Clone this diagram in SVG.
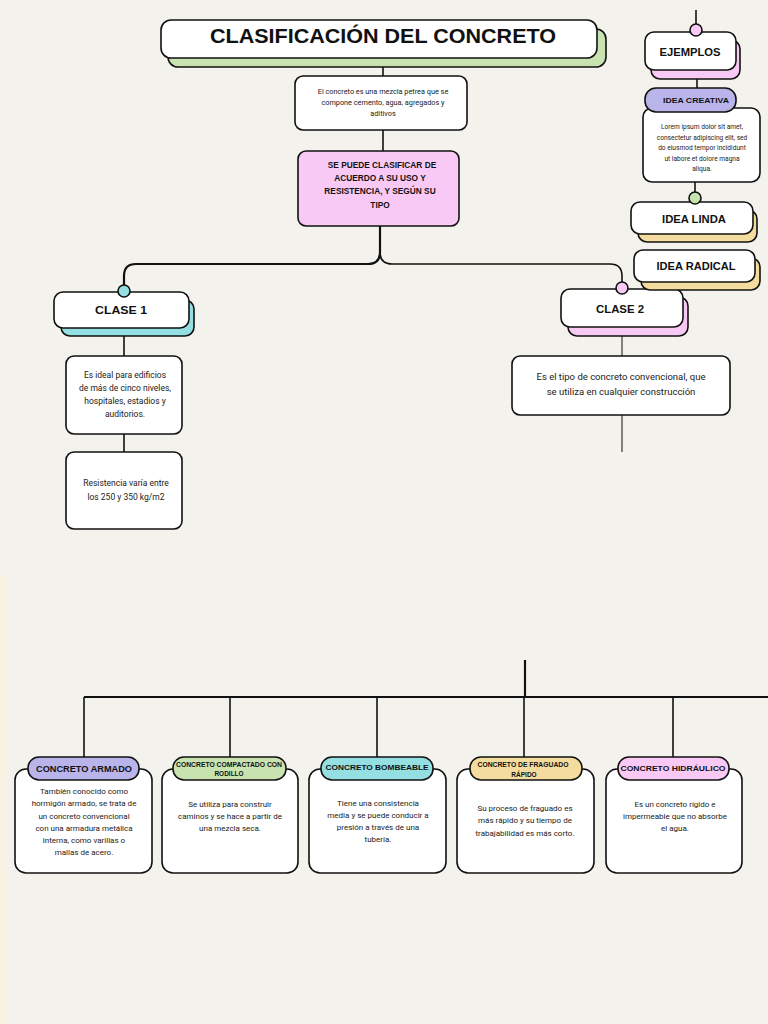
<svg xmlns="http://www.w3.org/2000/svg" width="768" height="1024" viewBox="0 0 768 1024">
<defs>
<style>
.bx{fill:#fff;stroke:#111;stroke-width:1.6}
.sh{stroke:#111;stroke-width:1.6}
.ln{fill:none;stroke:#111;stroke-width:1.6}
.lt{fill:none;stroke:#111;stroke-width:1}
.lk{fill:none;stroke:#111;stroke-width:2.2}
.hd{font-family:"Liberation Sans",Arial,sans-serif;font-weight:bold;fill:#111;text-anchor:middle}
.tx{font-family:Roboto,"Liberation Sans",sans-serif;fill:#222;text-anchor:middle}
.green{fill:#c9e3b0}.pink{fill:#f8c9f4}.cyan{fill:#93dfe2}.yel{fill:#f3dc9e}.pur{fill:#b9b4ea}
</style>
</defs>
<rect x="0" y="0" width="768" height="1024" fill="#f3f2ed"/>
<rect x="0" y="575" width="6" height="449" fill="#fbf1e2"/>

<g id="connectors">
<path class="ln" d="M383,58 V76"/>
<path class="ln" d="M383,130 V151"/>
<path class="lk" d="M380,226 V252 Q380,264 368,264 H136 Q124,264 124,276 V291"/>
<path class="ln" d="M380,252 Q380,264 392,264 H610 Q622,264 622,276 V288"/>
<path class="ln" d="M124,336 V356"/>
<path class="ln" d="M124,434 V452"/>
<path class="lt" d="M622,327 V356"/>
<path class="lt" d="M622,415 V452"/>
<path class="ln" d="M696,10 V25"/>
<path class="ln" d="M697,79 V88"/>
<path class="ln" d="M695,182 V192"/>
<path class="lk" d="M525,660 V697"/>
<path class="lk" d="M84,697 H768"/>
<path class="ln" d="M84,697 V757"/>
<path class="ln" d="M230,697 V757"/>
<path class="ln" d="M377,697 V757"/>
<path class="ln" d="M524,697 V757"/>
<path class="ln" d="M673,697 V757"/>
</g>

<g id="title">
<rect class="sh green" x="168" y="29" width="438" height="38" rx="10"/>
<rect class="bx" x="161" y="20" width="436" height="38" rx="10"/>
<text class="hd" x="383" y="43" font-size="21" textLength="346" lengthAdjust="spacingAndGlyphs">CLASIFICACIÓN DEL CONCRETO</text>
</g>

<g id="definicion">
<rect class="bx" x="295" y="76" width="172" height="54" rx="8"/>
<text class="tx" font-size="7.3"><tspan x="383" y="94">El concreto es una mezcla petrea que se</tspan><tspan x="383" y="105">compone cemento, agua, agregados y</tspan><tspan x="383" y="116">aditivos</tspan></text>
</g>

<g id="clasificacion">
<rect class="sh pink" x="298" y="151" width="161" height="75" rx="8"/>
<text class="hd" font-size="8.3"><tspan x="382" y="168">SE PUEDE CLASIFICAR DE</tspan><tspan x="380" y="181">ACUERDO A SU USO Y</tspan><tspan x="380" y="194">RESISTENCIA, Y SEGÚN SU</tspan><tspan x="380" y="208">TIPO</tspan></text>
</g>

<g id="clase1">
<rect class="sh cyan" x="61" y="300" width="133" height="36" rx="9"/>
<rect class="bx" x="54" y="292" width="135" height="36" rx="9"/>
<circle class="sh cyan" cx="124" cy="291" r="6"/>
<text class="hd" x="121" y="314" font-size="11" textLength="52" lengthAdjust="spacingAndGlyphs">CLASE 1</text>
</g>

<g id="clase1-uso">
<rect class="bx" x="66" y="356" width="116" height="78" rx="8"/>
<text class="tx" font-size="8.5"><tspan x="125" y="378">Es ideal para edificios</tspan><tspan x="125" y="391">de más de cinco niveles,</tspan><tspan x="125" y="404">hospitales, estadios y</tspan><tspan x="125" y="417">auditorios.</tspan></text>
</g>

<g id="clase1-resistencia">
<rect class="bx" x="66" y="452" width="116" height="77" rx="8"/>
<text class="tx" font-size="8.5"><tspan x="126" y="486">Resistencia varía entre</tspan><tspan x="126" y="500">los 250 y 350 kg/m2</tspan></text>
</g>

<g id="clase2">
<rect class="sh pink" x="568" y="297" width="120" height="39" rx="9"/>
<rect class="bx" x="561" y="289" width="122" height="38" rx="9"/>
<circle class="sh pink" cx="622" cy="288" r="6"/>
<text class="hd" x="620" y="313" font-size="11" textLength="48" lengthAdjust="spacingAndGlyphs">CLASE 2</text>
</g>

<g id="clase2-desc">
<rect class="bx" x="512" y="356" width="218" height="59" rx="8"/>
<text class="tx" font-size="9.5"><tspan x="621" y="380">Es el tipo de concreto convencional, que</tspan><tspan x="621" y="395">se utiliza en cualquier construcción</tspan></text>
</g>

<g id="ejemplos">
<rect class="sh pink" x="651" y="40" width="89" height="39" rx="9"/>
<rect class="bx" x="645" y="32" width="91" height="38" rx="9"/>
<circle class="sh pink" cx="696" cy="30" r="6"/>
<text class="hd" x="690" y="56" font-size="11" textLength="61" lengthAdjust="spacingAndGlyphs">EJEMPLOS</text>
</g>

<g id="idea-creativa">
<rect class="bx" x="643" y="108" width="117" height="74" rx="9"/>
<rect class="sh pur" x="645" y="88" width="91" height="24" rx="11"/>
<text class="hd" x="696" y="103" font-size="8" textLength="66" lengthAdjust="spacingAndGlyphs">IDEA CREATIVA</text>
<text class="tx" font-size="6.6"><tspan x="702" y="129">Lorem ipsum dolor sit amet,</tspan><tspan x="702" y="139.5">consectetur adipiscing elit, sed</tspan><tspan x="702" y="150">do eiusmod tempor incididunt</tspan><tspan x="702" y="160.5">ut labore et dolore magna</tspan><tspan x="702" y="171">aliqua.</tspan></text>
</g>

<g id="idea-linda">
<rect class="sh yel" x="638" y="210" width="119" height="32" rx="9"/>
<rect class="bx" x="631" y="202" width="122" height="32" rx="9"/>
<circle class="sh green" cx="695" cy="198" r="6"/>
<text class="hd" x="694" y="223" font-size="10" textLength="64" lengthAdjust="spacingAndGlyphs">IDEA LINDA</text>
</g>

<g id="idea-radical">
<rect class="sh yel" x="641" y="258" width="119" height="32" rx="9"/>
<rect class="bx" x="634" y="250" width="121" height="32" rx="9"/>
<text class="hd" x="696" y="270" font-size="10" textLength="79" lengthAdjust="spacingAndGlyphs">IDEA RADICAL</text>
</g>

<g id="concreto-armado">
<rect class="bx" x="15" y="769" width="137" height="104" rx="11"/>
<rect class="sh pur" x="28" y="757" width="111" height="23" rx="11"/>
<text class="hd" x="84" y="772" font-size="9" textLength="96" lengthAdjust="spacingAndGlyphs">CONCRETO ARMADO</text>
<text class="tx" font-size="8"><tspan x="84" y="794">También conocido como</tspan><tspan x="84" y="806">hormigón armado, se trata de</tspan><tspan x="84" y="819">un concreto convencional</tspan><tspan x="84" y="831">con una armadura metálica</tspan><tspan x="84" y="843">interna, como varillas o</tspan><tspan x="84" y="855">mallas de acero.</tspan></text>
</g>

<g id="concreto-compactado">
<rect class="bx" x="162" y="769" width="136" height="104" rx="11"/>
<rect class="sh green" x="173" y="757" width="113" height="23" rx="11"/>
<text class="hd" font-size="6.5"><tspan x="229" y="767" textLength="106" lengthAdjust="spacingAndGlyphs">CONCRETO COMPACTADO CON</tspan><tspan x="229" y="776">RODILLO</tspan></text>
<text class="tx" font-size="8"><tspan x="230" y="807">Se utiliza para construir</tspan><tspan x="230" y="819">caminos y se hace a partir de</tspan><tspan x="230" y="831">una mezcla seca.</tspan></text>
</g>

<g id="concreto-bombeable">
<rect class="bx" x="309" y="769" width="137" height="104" rx="11"/>
<rect class="sh cyan" x="321" y="757" width="112" height="23" rx="11"/>
<text class="hd" x="377" y="770" font-size="8" textLength="103" lengthAdjust="spacingAndGlyphs">CONCRETO BOMBEABLE</text>
<text class="tx" font-size="8"><tspan x="378" y="806">Tiene una consistencia</tspan><tspan x="378" y="818">media y se puede conducir a</tspan><tspan x="378" y="830">presión a través de una</tspan><tspan x="378" y="842">tubería.</tspan></text>
</g>

<g id="concreto-fraguado">
<rect class="bx" x="457" y="769" width="137" height="104" rx="11"/>
<rect class="sh yel" x="470" y="757" width="112" height="23" rx="11"/>
<text class="hd" font-size="6.5"><tspan x="523" y="767" textLength="91" lengthAdjust="spacingAndGlyphs">CONCRETO DE FRAGUADO</tspan><tspan x="524" y="777">RÁPIDO</tspan></text>
<text class="tx" font-size="8"><tspan x="525" y="811">Su proceso de fraguado es</tspan><tspan x="525" y="823">más rápido y su tiempo de</tspan><tspan x="525" y="836">trabajabilidad es más corto.</tspan></text>
</g>

<g id="concreto-hidraulico">
<rect class="bx" x="606" y="769" width="136" height="104" rx="11"/>
<rect class="sh pink" x="618" y="757" width="111" height="23" rx="11"/>
<text class="hd" x="673" y="771" font-size="8" textLength="105" lengthAdjust="spacingAndGlyphs">CONCRETO HIDRÁULICO</text>
<text class="tx" font-size="8"><tspan x="675" y="807">Es un concreto rígido e</tspan><tspan x="675" y="819">impermeable que no absorbe</tspan><tspan x="675" y="831">el agua.</tspan></text>
</g>
</svg>
